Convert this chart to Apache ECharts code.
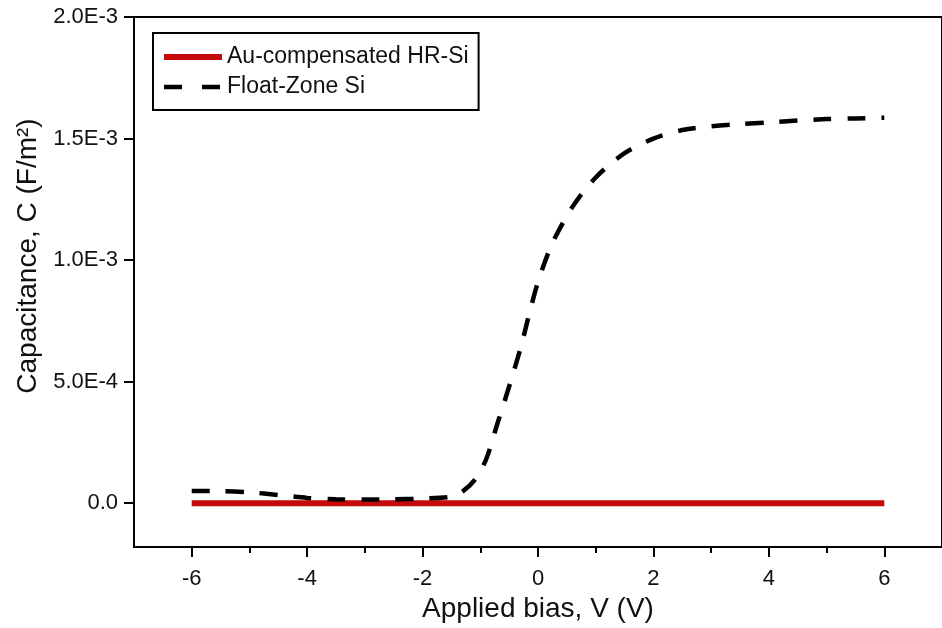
<!DOCTYPE html>
<html>
<head>
<meta charset="utf-8">
<script src="https://cdn.jsdelivr.net/npm/echarts@6/dist/echarts.min.js"></script>
<style>
  html, body { margin: 0; padding: 0; background: #fff; }
  #chart { width: 942px; height: 628px; }
</style>
</head>
<body>
<div id="chart"></div>
<script>
// Applied bias (V)
const fzBias = [-6, -5.5, -5, -4.5, -4, -3.5, -3, -2.5, -2, -1.5, -1.3, -1.1, -0.9, -0.7, -0.5, -0.3, -0.15, 0, 0.25, 0.6, 1.0, 1.5, 2.0, 2.5, 3, 3.5, 4, 4.5, 5, 5.5, 6];
// Float-Zone Si capacitance (F/m^2)
const fzCap = [5.0e-5, 5.0e-5, 4.5e-5, 3.4e-5, 2.2e-5, 1.6e-5, 1.5e-5, 1.6e-5, 1.9e-5, 2.7e-5, 5.0e-5, 9.5e-5, 1.8e-4, 3.3e-4, 4.8e-4, 6.4e-4, 7.8e-4, 9.1e-4, 1.07e-3, 1.22e-3, 1.34e-3, 1.44e-3, 1.50e-3, 1.535e-3, 1.55e-3, 1.56e-3, 1.566e-3, 1.574e-3, 1.58e-3, 1.583e-3, 1.586e-3];

// Au-compensated HR-Si capacitance (F/m^2)
const auBias = [-6, -4, -2, 0, 2, 4, 6];
const auCap = [0, 0, 0, 0, 0, 0, 0];

// Axis ticks
const xMajorTicks = [-6, -4, -2, 0, 2, 4, 6];
const xMinorTicks = [-5, -3, -1, 1, 3, 5];
const yTicks = [0, 5e-4, 1e-3, 1.5e-3, 2e-3];
const yTickLabels = ['0.0', '5.0E-4', '1.0E-3', '1.5E-3', '2.0E-3'];

const seriesNames = ['Au-compensated HR-Si', 'Float-Zone Si'];

const FONT = 'Liberation Sans, Arial, Helvetica, sans-serif';
const INK = '#111';
const RED = '#c40a0a';

function pairs(xs, ys) { return xs.map((x, i) => [x, ys[i]]); }

function yLabel(v) {
  let best = 0;
  for (let i = 1; i < yTicks.length; i++) {
    if (Math.abs(yTicks[i] - v) < Math.abs(yTicks[best] - v)) best = i;
  }
  return yTickLabels[best];
}

const chart = echarts.init(document.getElementById('chart'), null, { renderer: 'canvas' });

chart.setOption({
  animation: false,
  backgroundColor: '#fff',
  textStyle: { fontFamily: FONT, color: INK },
  grid: {
    left: 134, top: 17, right: -9, bottom: 80,
    show: true, borderColor: '#000', borderWidth: 2, backgroundColor: 'transparent'
  },
  legend: {
    orient: 'vertical',
    left: 153, top: 33,
    padding: [12, 10, 11, 8],
    itemGap: 6,
    itemWidth: 58, itemHeight: 14,
    itemTextGap: 0,
    borderColor: '#000', borderWidth: 2,
    backgroundColor: '#fff',
    itemStyle: { color: 'transparent', borderWidth: 0 },
    data: [
      { name: seriesNames[0], lineStyle: { width: 6, color: RED } },
      { name: seriesNames[1], lineStyle: { width: 4.5, color: '#000', type: [18, 20] } }
    ],
    textStyle: { fontFamily: FONT, fontSize: 23, color: INK, lineHeight: 24 }
  },
  xAxis: [{
    type: 'value',
    min: -7, max: 7,
    position: 'bottom',
    name: 'Applied bias, V (V)',
    nameLocation: 'middle',
    nameGap: 48,
    nameTextStyle: { fontFamily: FONT, fontSize: 28, color: INK },
    axisLine: { show: true, onZero: false, lineStyle: { color: '#000', width: 2 } },
    axisTick: { show: true, inside: false, length: 10, customValues: xMajorTicks, lineStyle: { color: '#000', width: 2 } },
    axisLabel: { show: true, customValues: xMajorTicks, margin: 21, fontFamily: FONT, fontSize: 22, color: INK },
    splitLine: { show: false }
  }, {
    type: 'value',
    min: -7, max: 7,
    position: 'bottom',
    axisLine: { show: false, onZero: false },
    axisTick: { show: true, inside: false, length: 6, customValues: xMinorTicks, lineStyle: { color: '#000', width: 2 } },
    axisLabel: { show: false },
    splitLine: { show: false }
  }],
  yAxis: {
    type: 'value',
    min: -1.8e-4, max: 2e-3,
    name: 'Capacitance, C (F/m²)',
    nameLocation: 'middle',
    nameGap: 92,
    nameTextStyle: { fontFamily: FONT, fontSize: 28, color: INK, padding: [0, 0, 0, 52] },
    axisLine: { show: true, onZero: false, lineStyle: { color: '#000', width: 2 } },
    axisTick: { show: true, inside: false, length: 10, customValues: yTicks, lineStyle: { color: '#000', width: 2 } },
    axisLabel: { show: true, customValues: yTicks, margin: 16, fontFamily: FONT, fontSize: 22, color: INK, formatter: yLabel },
    splitLine: { show: false }
  },
  series: [{
    name: seriesNames[0],
    type: 'line',
    xAxisIndex: 0,
    data: pairs(auBias, auCap),
    showSymbol: false,
    symbol: 'none',
    lineStyle: { color: RED, width: 6, cap: 'butt' },
    itemStyle: { color: RED },
    z: 2
  }, {
    name: seriesNames[1],
    type: 'line',
    xAxisIndex: 0,
    data: pairs(fzBias, fzCap),
    smooth: 0.3,
    showSymbol: false,
    symbol: 'none',
    lineStyle: { color: '#000', width: 4.5, type: [18, 16], cap: 'butt' },
    itemStyle: { color: '#000' },
    z: 3
  }]
});
</script>
</body>
</html>
